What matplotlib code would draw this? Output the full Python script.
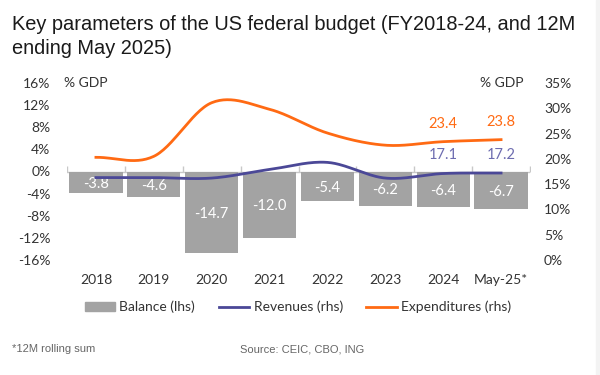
import matplotlib
matplotlib.use("Agg")
import matplotlib.pyplot as plt
import numpy as np
from matplotlib.patches import Patch, Rectangle
from matplotlib.lines import Line2D

# Data (% of GDP)
years = ["2018", "2019", "2020", "2021", "2022", "2023", "2024", "May-25*"]
balance = [-3.8, -4.6, -14.7, -12.0, -5.4, -6.2, -6.4, -6.7]
revenues = [16.3, 16.3, 16.2, 17.9, 19.3, 16.2, 17.1, 17.2]
expenditures = [20.3, 20.5, 31.1, 29.8, 25.1, 22.7, 23.4, 23.8]

GREY = "#a3a3a3"
PURPLE = "#4b4897"
PURPLE_LBL = "#6d6cb0"
ORANGE = "#ff6a13"
TXT = "#333333"

plt.rcParams["font.family"] = ["Lato", "DejaVu Sans"]


def smooth(x, y, n=30):
    # cubic hermite with catmull-rom tangents, just for drawing
    x = np.asarray(x, float)
    y = np.asarray(y, float)
    m = np.gradient(y, x)
    xs, ys = [], []
    for i in range(len(x) - 1):
        t = np.linspace(0, 1, n, endpoint=False)
        h = x[i + 1] - x[i]
        h00 = 2 * t**3 - 3 * t**2 + 1
        h10 = t**3 - 2 * t**2 + t
        h01 = -2 * t**3 + 3 * t**2
        h11 = t**3 - t**2
        xs.append(x[i] + t * h)
        ys.append(h00 * y[i] + h10 * h * m[i] + h01 * y[i + 1] + h11 * h * m[i + 1])
    xs.append([x[-1]])
    ys.append([y[-1]])
    return np.concatenate(xs), np.concatenate(ys)


fig = plt.figure(figsize=(6, 3.75), dpi=100)
# light strip on the right edge
fig.patches.append(Rectangle((596 / 600, 0), 4 / 600, 1, transform=fig.transFigure,
                             color="#f3f3f3", zorder=0))

ax = fig.add_axes([67 / 600, 1 - 260 / 375, 463 / 600, 177 / 375])
ax2 = ax.twinx()

x = np.arange(len(years))
ax.bar(x, balance, width=0.92, color=GREY, zorder=2)
for xi, v in zip(x, balance):
    ax.text(xi, v / 2 - 0.3, f"{v:.1f}", ha="center", va="center", color="white", fontsize=10.5, zorder=3)

ax.axhline(0, color="#c8c8c8", lw=1, zorder=1)
ax.plot(np.arange(len(years) + 1) - 0.5, np.zeros(len(years) + 1), ls="none",
        marker=2, ms=4, mew=1, color="#c8c8c8", zorder=1)

ax.set_xlim(-0.5, len(years) - 0.5)
ax.set_ylim(-16, 16)
ax.set_yticks(np.arange(-16, 17, 4))
ax.set_yticklabels([f"{v}%" for v in range(-16, 17, 4)])
ax.set_xticks(x)
ax.set_xticklabels(years)
ax.tick_params(axis="both", length=0, labelsize=10, colors=TXT)
ax.tick_params(axis="y", pad=12)
ax.tick_params(axis="x", pad=10)

sx, sy = smooth(x, revenues)
ax2.plot(sx, sy, color=PURPLE, lw=2, zorder=4)
sx, sy = smooth(x, expenditures)
ax2.plot(sx, sy, color=ORANGE, lw=2, zorder=4)
for i in (6, 7):
    ax2.text(x[i], expenditures[i] + 2.2, f"{expenditures[i]:.1f}", ha="center", va="bottom",
             color=ORANGE, fontsize=10.5)
    ax2.text(x[i], revenues[i] + 2.2, f"{revenues[i]:.1f}", ha="center", va="bottom",
             color=PURPLE_LBL, fontsize=10.5)

ax2.set_ylim(0, 35)
ax2.set_yticks(np.arange(0, 36, 5))
ax2.set_yticklabels([f"{v}%" for v in range(0, 36, 5)])
ax2.tick_params(axis="y", length=0, labelsize=10, colors=TXT, pad=10)

for a in (ax, ax2):
    for s in a.spines.values():
        s.set_visible(False)
ax2.patch.set_visible(False)

fig.text(64 / 600, 1 - 83 / 375, "% GDP", ha="left", va="center", fontsize=10, color=TXT)
fig.text(524 / 600, 1 - 83 / 375, "% GDP", ha="right", va="center", fontsize=10, color=TXT)

# legend
handles = [Patch(color=GREY, label="Balance (lhs)"),
           Line2D([], [], color=PURPLE, lw=2, label="Revenues (rhs)"),
           Line2D([], [], color=ORANGE, lw=2, label="Expenditures (rhs)")]
fig.legend(handles=handles, loc="center", bbox_to_anchor=(298 / 600, 1 - 307 / 375), ncol=3,
           frameon=False, fontsize=10, labelcolor=TXT, handlelength=2.2, handleheight=0.6,
           handletextpad=0.3, columnspacing=1.7)

fig.text(12 / 600, 1 - 25 / 375, "Key parameters of the US federal budget (FY2018-24, and 12M",
         fontsize=14.4, family="Liberation Sans", color="#1a1a1a", va="center")
fig.text(12 / 600, 1 - 48 / 375, "ending May 2025)",
         fontsize=14.4, family="Liberation Sans", color="#1a1a1a", va="center")
fig.text(12 / 600, 1 - 349 / 375, "*12M rolling sum", fontsize=8, family="Liberation Sans",
         color="#666666", va="center")
fig.text(240 / 600, 1 - 349 / 375, "Source: CEIC, CBO, ING", fontsize=8, family="Liberation Sans",
         color="#666666", va="center")

fig.savefig("out.png", dpi=100)
